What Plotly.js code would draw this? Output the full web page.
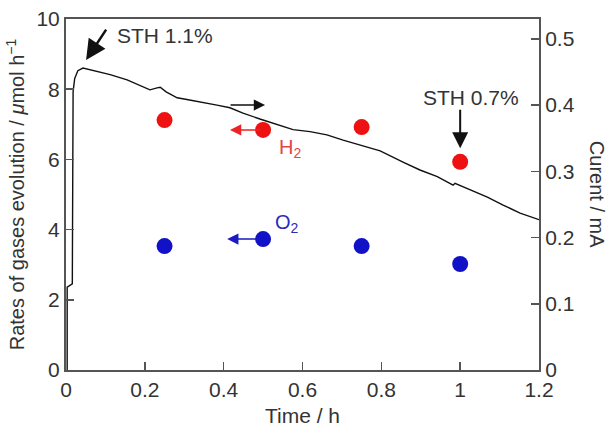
<!DOCTYPE html>
<html><head><meta charset="utf-8">
<script src="https://cdn.plot.ly/plotly-3.0.1.min.js"></script>
<style>html,body{margin:0;padding:0;background:#fff}#plot{width:607px;height:430px}</style>
</head><body><div id="plot"></div>
<script>
// Gas evolution points (left axis, µmol h^-1)
const timePts = [0.25, 0.5, 0.75, 1.0];
const h2Rate = [7.12, 6.84, 6.92, 5.93];
const o2Rate = [3.53, 3.73, 3.53, 3.02];
// Photocurrent trace (right axis, mA)
const curTime = [0.003, 0.003, 0.016, 0.018, 0.022, 0.03, 0.043, 0.07, 0.112, 0.155, 0.185, 0.213, 0.231, 0.239, 0.254, 0.282, 0.31, 0.34, 0.383, 0.416, 0.449, 0.492, 0.536, 0.576, 0.619, 0.662, 0.703, 0.746, 0.797, 0.855, 0.898, 0.942, 0.982, 0.987, 1.025, 1.069, 1.109, 1.152, 1.2];
const current = [0.0, 0.125, 0.13, 0.42, 0.44, 0.452, 0.456, 0.452, 0.446, 0.438, 0.43, 0.423, 0.426, 0.427, 0.42, 0.411, 0.408, 0.405, 0.4, 0.396, 0.388, 0.379, 0.37, 0.363, 0.36, 0.355, 0.347, 0.34, 0.331, 0.314, 0.302, 0.292, 0.279, 0.282, 0.272, 0.261, 0.249, 0.237, 0.227];
const xTicks = [0, 0.2, 0.4, 0.6, 0.8, 1, 1.2];
const yTicks = [0, 2, 4, 6, 8, 10];
const y2Ticks = [0, 0.1, 0.2, 0.3, 0.4, 0.5];

const txt = '#333';
const axc = '#555';
const F = 'Liberation Sans, Arial, sans-serif';

const traces = [
  {x: curTime, y: current, yaxis: 'y2', mode: 'lines', line: {color: '#111', width: 1.4}, showlegend: false, hoverinfo: 'skip'},
  {x: timePts, y: h2Rate, mode: 'markers', marker: {color: '#ee1111', size: 16}, showlegend: false},
  {x: timePts, y: o2Rate, mode: 'markers', marker: {color: '#1111c8', size: 16}, showlegend: false}
];

const layout = {
  width: 607, height: 430,
  margin: {l: 66, r: 68, t: 19, b: 60},
  paper_bgcolor: '#fff', plot_bgcolor: '#fff',
  font: {family: F, color: txt, size: 21},
  showlegend: false,
  xaxis: {
    range: [0, 1.2], tickvals: xTicks, ticktext: xTicks.map(String),
    ticks: 'inside', ticklen: 8, tickwidth: 1.5, tickcolor: axc,
    showline: true, linecolor: axc, linewidth: 2, mirror: true,
    showgrid: false, zeroline: false,
    tickfont: {size: 21, color: txt},
    title: {text: 'Time / h', font: {size: 21, color: txt}, standoff: 8}
  },
  yaxis: {
    range: [0, 10], tickvals: yTicks, ticktext: yTicks.map(String),
    ticks: 'inside', ticklen: 8, tickwidth: 1.5, tickcolor: axc,
    showline: true, linecolor: axc, linewidth: 2,
    showgrid: false, zeroline: false,
    tickfont: {size: 21, color: txt},
    title: {text: 'Rates of gases evolution / <i>μ</i>mol h<sup>−1</sup>', font: {size: 20, color: txt}, standoff: 6}
  },
  yaxis2: {
    overlaying: 'y', side: 'right',
    range: [0, 0.53], tickvals: y2Ticks, ticktext: y2Ticks.map(String),
    ticks: 'inside', ticklen: 8, tickwidth: 1.5, tickcolor: axc,
    showline: true, linecolor: axc, linewidth: 2,
    showgrid: false, zeroline: false,
    tickfont: {size: 21, color: txt}
  },
  annotations: [
    {xref: 'paper', yref: 'paper', x: 1.124, y: 0.5, text: 'Curent / mA', textangle: 90, showarrow: false, font: {size: 20, color: txt}, xanchor: 'center', yanchor: 'middle'},
    {x: 0.124, y: 9.54, text: 'STH 1.1%', showarrow: false, xanchor: 'left', yanchor: 'middle', font: {size: 21, color: txt}},
    {x: 0.051, y: 8.83, text: '', showarrow: true, ax: 21, ay: -32, arrowhead: 2, arrowsize: 1.6, arrowwidth: 2.5, arrowcolor: '#111'},
    {x: 1.028, y: 7.75, text: 'STH 0.7%', showarrow: false, xanchor: 'center', yanchor: 'middle', font: {size: 21, color: txt}},
    {x: 1.0, y: 6.32, text: '', showarrow: true, ax: 0, ay: -40, arrowhead: 2, arrowsize: 1.6, arrowwidth: 2, arrowcolor: '#111'},
    {x: 0.505, y: 7.55, text: '', showarrow: true, ax: -36, ay: 0, arrowhead: 2, arrowsize: 1.5, arrowwidth: 1.5, arrowcolor: '#111'},
    {x: 0.416, y: 6.84, text: '', showarrow: true, ax: 32, ay: 0, arrowhead: 2, arrowsize: 1.5, arrowwidth: 1.5, arrowcolor: '#ee2222'},
    {x: 0.409, y: 3.73, text: '', showarrow: true, ax: 34, ay: 0, arrowhead: 2, arrowsize: 1.5, arrowwidth: 1.5, arrowcolor: '#1a1ac0'},
    {x: 0.569, y: 6.32, text: 'H<sub>2</sub>', showarrow: false, xanchor: 'center', yanchor: 'middle', font: {size: 20, color: '#e04848'}},
    {x: 0.561, y: 4.16, text: 'O<sub>2</sub>', showarrow: false, xanchor: 'center', yanchor: 'middle', font: {size: 20, color: '#2a2ac0'}}
  ]
};

Plotly.newPlot('plot', traces, layout, {displayModeBar: false, staticPlot: true});
</script>
</body></html>
